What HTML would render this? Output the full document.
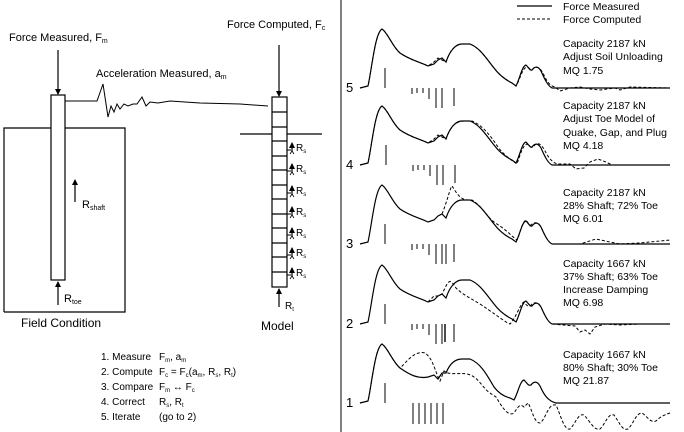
<!DOCTYPE html>
<html><head><meta charset="utf-8"><style>
body{margin:0;background:#fff;}
svg{display:block;font-family:"Liberation Sans",Arial,sans-serif;}
</style></head><body>
<svg width="684" height="432" viewBox="0 0 684 432" xmlns="http://www.w3.org/2000/svg">
<defs>
<marker id="ah" markerWidth="6" markerHeight="6" refX="5" refY="3" orient="auto" markerUnits="userSpaceOnUse"><path d="M0,0 L6,3 L0,6 z" fill="#000"/></marker>
<g id="solid">
<path d="M360,0 L368,-2 C372,-20 375,-55 382,-59 C388,-55 392,-42 400,-35 C410,-28 420,-26 428,-22 L434,-24 L438,-28 L442,-30 L446,-26 C450,-38 456,-44 462,-44 L470,-44 C480,-40 486,-30 494,-20 C500,-12 508,-7 512,-5 L516,-2 C520,-10 522,-22 526,-23 C529,-20 530,-17 532,-18 C535,-22 538,-22 541,-17 C545,-8 548,-2 552,0 L670,0" fill="none" stroke="#000" stroke-width="1.2"/>
</g>
<g id="ticks" stroke="#000" stroke-width="1">
<line x1="385" y1="0" x2="385" y2="-20"/>
<line x1="412" y1="0" x2="412" y2="6"/><line x1="417" y1="0" x2="417" y2="5"/><line x1="423" y1="0" x2="423" y2="5"/>
<line x1="429" y1="0" x2="429" y2="11"/><line x1="436" y1="0" x2="436" y2="20"/><line x1="442" y1="0" x2="442" y2="20"/><line x1="454" y1="0" x2="454" y2="18"/>
</g>
</defs>
<line x1="341" y1="0" x2="341" y2="432" stroke="#000" stroke-width="1"/>
<!-- Left diagram -->
<g fill="none" stroke="#000" stroke-width="1.2">
<polyline points="4,312 4,128 51,128"/><polyline points="65,128 125,128 125,312 4,312"/>
<rect x="51" y="95" width="14" height="185" fill="#fff"/>
<line x1="58" y1="50" x2="58" y2="94" marker-end="url(#ah)"/>
<line x1="75" y1="202" x2="75" y2="180" marker-end="url(#ah)"/>
<line x1="58" y1="305" x2="58" y2="282" marker-end="url(#ah)"/>
<path d="M65,101 L97,101 L103,84 L108,117 L111,106 L114,112 L117,104 L120,109 L124,104 L128,106 L133,104 L137,104 L142,97 L146,106 L150,102 L158,103 L170,101 L200,103 L240,104 L268,106" stroke-width="1"/>
<line x1="279" y1="45" x2="279" y2="96" marker-end="url(#ah)"/>
<line x1="240" y1="134" x2="322" y2="134"/>
<rect x="272" y="97" width="15" height="190" fill="#fff"/>
<path d="M272,112H287M272,127H287M272,141H287M272,156H287M272,170H287M272,185H287M272,199H287M272,214H287M272,228H287M272,243H287M272,257H287M272,272H287"/>
<line x1="279" y1="307" x2="279" y2="289" marker-end="url(#ah)"/>
</g>
<g stroke="#000" stroke-width="1" fill="none">
<path d="M287,150H291M287,171H291M287,193H291M287,214H291M287,235H291M287,255H291M287,275H291"/>
</g>
<g font-size="7" fill="#000">
<g id="rs"><path d="M292,152 L292,143" stroke="#000" stroke-width="1.2" marker-end="url(#ah)"/><path d="M290,154 L292,151 L294,154" stroke="#000" fill="none" stroke-width=".8"/></g>
<use href="#rs" y="21"/><use href="#rs" y="43"/><use href="#rs" y="64"/><use href="#rs" y="85"/><use href="#rs" y="105"/><use href="#rs" y="125"/>
<text x="296" y="151" font-size="10">R<tspan font-size="6" dy="2">s</tspan></text>
<text x="296" y="172" font-size="10">R<tspan font-size="6" dy="2">s</tspan></text>
<text x="296" y="194" font-size="10">R<tspan font-size="6" dy="2">s</tspan></text>
<text x="296" y="215" font-size="10">R<tspan font-size="6" dy="2">s</tspan></text>
<text x="296" y="236" font-size="10">R<tspan font-size="6" dy="2">s</tspan></text>
<text x="296" y="256" font-size="10">R<tspan font-size="6" dy="2">s</tspan></text>
<text x="296" y="276" font-size="10">R<tspan font-size="6" dy="2">s</tspan></text>
<text x="285" y="309" font-size="10">R<tspan font-size="6" dy="2">t</tspan></text>
</g>
<g font-size="11" fill="#000">
<text x="9" y="41">Force Measured, F<tspan font-size="7" dy="2">m</tspan></text>
<text x="227" y="28">Force Computed, F<tspan font-size="7" dy="2">c</tspan></text>
<text x="96" y="77">Acceleration Measured, a<tspan font-size="7" dy="2">m</tspan></text>
<text x="82" y="208">R<tspan font-size="7" dy="2">shaft</tspan></text>
<text x="64" y="302">R<tspan font-size="7" dy="2">toe</tspan></text>
<text x="21" y="327" font-size="12">Field Condition</text>
<text x="261" y="330" font-size="12">Model</text>
</g>
<g font-size="10" fill="#000">
<text x="101" y="360">1. Measure</text><text x="159" y="360">F<tspan font-size="6" dy="2">m</tspan><tspan dy="-2">, a</tspan><tspan font-size="6" dy="2">m</tspan></text>
<text x="101" y="375">2. Compute</text><text x="159" y="375">F<tspan font-size="6" dy="2">c</tspan><tspan dy="-2"> = F</tspan><tspan font-size="6" dy="2">c</tspan><tspan dy="-2">(a</tspan><tspan font-size="6" dy="2">m</tspan><tspan dy="-2">, R</tspan><tspan font-size="6" dy="2">s</tspan><tspan dy="-2">, R</tspan><tspan font-size="6" dy="2">t</tspan><tspan dy="-2">)</tspan></text>
<text x="101" y="390">3. Compare</text><text x="159" y="390">F<tspan font-size="6" dy="2">m</tspan><tspan dy="-2"> ↔ F</tspan><tspan font-size="6" dy="2">c</tspan></text>
<text x="101" y="405">4. Correct</text><text x="159" y="405">R<tspan font-size="6" dy="2">s</tspan><tspan dy="-2">, R</tspan><tspan font-size="6" dy="2">t</tspan></text>
<text x="101" y="420">5. Iterate</text><text x="159" y="420">(go to 2)</text>
</g>
<!-- Right: legend -->
<line x1="517" y1="6" x2="552" y2="6" stroke="#000" stroke-width="1.2"/>
<line x1="517" y1="19" x2="552" y2="19" stroke="#000" stroke-width="1" stroke-dasharray="3,2"/>
<g font-size="10.5" fill="#000">
<text x="563" y="10">Force Measured</text>
<text x="563" y="23">Force Computed</text>
</g>
<!-- Traces -->
<g>
<g transform="translate(0,88)"><use href="#solid"/><use href="#ticks"/>
<path d="M360,0 L368,-2 C372,-20 375,-55 382,-59 C388,-55 392,-42 400,-35 C410,-28 420,-26 428,-22 L434,-26 L438,-30 L442,-28 L446,-26 C450,-38 456,-44 462,-44 L470,-44 C480,-40 486,-30 494,-20 C500,-12 508,-7 512,-5 L516,-2 C520,-8 522,-20 527,-21 C530,-20 531,-16 534,-20 C537,-22 540,-20 543,-15 C547,-6 550,-2 555,-1 L560,3 L570,0 L580,-1 L590,1 L600,2 L615,0 L620,2 L630,-1 L670,0" fill="none" stroke="#000" stroke-width="1" stroke-dasharray="3,2"/>
</g>
<g transform="translate(0,165)"><use href="#solid"/><use href="#ticks" transform="translate(1,0)"/>
<path d="M360,0 L368,-2 C372,-20 375,-55 382,-59 C388,-55 392,-42 400,-35 C410,-28 420,-26 428,-22 L434,-26 L438,-30 L442,-28 L446,-26 C450,-38 456,-44 464,-44 L472,-44 C482,-40 490,-30 498,-18 C504,-10 510,-6 514,-3 L517,-1 C520,-10 523,-20 527,-21 C531,-18 532,-16 534,-19 C537,-23 540,-22 544,-16 C548,-8 552,-2 558,-1 L570,-1 L576,4 L584,3 L590,-3 L598,-6 L606,-3 L612,0 L670,0" fill="none" stroke="#000" stroke-width="1" stroke-dasharray="3,2"/>
</g>
<g transform="translate(0,244)"><use href="#solid"/><use href="#ticks"/>
<path d="M442,-30 C448,-45 450,-56 452,-58 C456,-52 460,-44 468,-44 L472,-44 C482,-38 486,-28 494,-22 C500,-18 506,-14 512,-8 L517,-4 C520,-10 522,-22 526,-24 C529,-20 530,-17 532,-20 C535,-22 538,-22 541,-17 C545,-8 548,-2 552,0 L580,0 L596,-5 L610,-2 L620,0 L640,-1 L670,-4" fill="none" stroke="#000" stroke-width="1" stroke-dasharray="3,2"/>
<line x1="446" y1="0" x2="446" y2="20" stroke="#000"/>
</g>
<g transform="translate(0,324)"><use href="#solid"/><use href="#ticks"/>
<path d="M428,-22 L434,-28 L438,-28 L442,-30 L446,-38 C450,-46 452,-42 456,-36 C462,-30 470,-26 480,-20 C492,-12 500,-6 506,-2 L510,0 C516,-6 520,-20 524,-22 C527,-18 529,-16 532,-20 C535,-22 538,-22 541,-17 C545,-8 548,-2 552,0 L575,2 L580,8 L585,6 L590,10 L595,3 L605,0 L620,1 L640,0 L670,0" fill="none" stroke="#000" stroke-width="1" stroke-dasharray="3,2"/>
<line x1="445" y1="0" x2="445" y2="18" stroke="#000" stroke-width="1.4"/>
</g>
<g transform="translate(0,403)">
<path d="M360,0 L368,-2 C372,-20 375,-55 382,-59 C388,-55 392,-42 400,-35 C410,-28 418,-24 428,-26 L434,-28 L438,-24 L442,-30 L446,-30 C450,-40 456,-44 462,-44 L470,-44 C480,-40 486,-30 494,-16 C500,-8 506,-6 510,-5 L514,-3 C518,-10 520,-22 524,-23 C527,-20 528,-17 531,-18 C534,-22 537,-22 540,-17 C544,-8 548,-2 556,0 L670,0" fill="none" stroke="#000" stroke-width="1.2"/>
<path d="M360,0 L368,-2 C372,-20 375,-55 382,-59 C388,-55 392,-42 400,-35 C406,-40 414,-53 425,-50 C432,-45 434,-36 438,-26 L440,-22 L444,-32 L448,-30 C456,-28 466,-32 474,-26 C480,-22 484,-14 490,-10 L496,-6 C502,4 508,14 514,10 C518,4 520,0 524,4 L528,0 C532,6 534,20 540,20 C546,16 548,0 556,2 C560,10 564,28 570,26 C576,20 578,10 584,12 C590,18 594,28 600,26 C606,20 608,10 614,12 C620,20 622,28 628,26 C634,20 636,10 642,10 C648,14 650,20 656,18 C660,14 664,12 670,10" fill="none" stroke="#000" stroke-width="1" stroke-dasharray="3,2"/>
<g stroke="#000"><line x1="385" y1="0" x2="385" y2="-20"/><line x1="413" y1="0" x2="413" y2="21"/><line x1="419" y1="0" x2="419" y2="21"/><line x1="425" y1="0" x2="425" y2="21"/><line x1="431" y1="0" x2="431" y2="21"/><line x1="437" y1="0" x2="437" y2="21"/><line x1="443" y1="0" x2="443" y2="21"/></g>
</g>
</g>
<g font-size="13" fill="#000">
<text x="346" y="92">5</text><text x="346" y="169">4</text><text x="346" y="248">3</text><text x="346" y="328">2</text><text x="346" y="407">1</text>
</g>
<g font-size="10.5" fill="#000">
<text x="563" y="47">Capacity 2187 kN</text><text x="563" y="60">Adjust Soil Unloading</text><text x="563" y="74">MQ 1.75</text>
<text x="563" y="109">Capacity 2187 kN</text><text x="563" y="122">Adjust Toe Model of</text><text x="563" y="136">Quake, Gap, and Plug</text><text x="563" y="149">MQ 4.18</text>
<text x="563" y="196">Capacity 2187 kN</text><text x="563" y="209">28% Shaft; 72% Toe</text><text x="563" y="222">MQ 6.01</text>
<text x="563" y="267">Capacity 1667 kN</text><text x="563" y="280">37% Shaft; 63% Toe</text><text x="563" y="293">Increase Damping</text><text x="563" y="306">MQ 6.98</text>
<text x="563" y="358">Capacity 1667 kN</text><text x="563" y="371">80% Shaft; 30% Toe</text><text x="563" y="384">MQ 21.87</text>
</g>
</svg>
</body></html>
